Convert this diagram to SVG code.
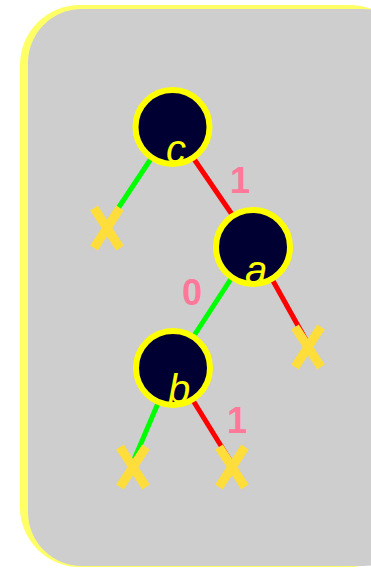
<svg xmlns="http://www.w3.org/2000/svg" width="371" height="568" viewBox="0 0 371 568">
<defs>
<style>
.node circle{fill:#000033;stroke:#FFFF00;stroke-width:6}
.node text{font-family:"Liberation Sans",Arial,sans-serif;font-style:italic;font-size:40px;fill:#FFFF00;text-anchor:middle}
.g{stroke:#00FF00;stroke-width:5;fill:none}
.r{stroke:#FF0000;stroke-width:5;fill:none}
.x path{stroke:#FFDD3A;stroke-width:9;fill:none}
.lbl{font-family:"Liberation Sans",Arial,sans-serif;font-weight:bold;font-size:36px;fill:#FF7799;text-anchor:middle}
</style>
</defs>
<rect x="20" y="5" width="390" height="562" rx="60" fill="#FFFF66"/>
<rect x="28" y="9" width="390" height="557" rx="54" fill="#CECECE"/>
<g id="connectors">
<line class="g" x1="172" y1="127" x2="107" y2="225"/>
<line class="r" x1="172" y1="127" x2="253" y2="245"/>
<line class="g" x1="253" y1="245" x2="173" y2="368"/>
<line class="r" x1="253" y1="245" x2="306" y2="340"/>
<line class="g" x1="173" y1="368" x2="133" y2="462"/>
<line class="r" x1="173" y1="368" x2="231" y2="462"/>
</g>
<g id="x1" class="x"><path d="M94 208 L120 248 M120 208 L94 248"/></g>
<g id="x2" class="x"><path d="M295 327 L321 367 M321 327 L295 367"/></g>
<g id="x3" class="x"><path d="M120 447 L146 487 M146 447 L120 487"/></g>
<g id="x4" class="x"><path d="M219 447 L245 487 M245 447 L219 487"/></g>
<g id="node-c" class="node"><circle cx="172.5" cy="127" r="37"/><text x="176" y="163">c</text></g>
<g id="node-a" class="node"><circle cx="253" cy="247" r="37"/><text x="256" y="284">a</text></g>
<g id="node-b" class="node"><circle cx="173" cy="368" r="37"/><text x="179" y="403">b</text></g>
<text class="lbl" x="240" y="193">1</text>
<text class="lbl" x="192" y="305">0</text>
<text class="lbl" x="237" y="433">1</text>
</svg>
